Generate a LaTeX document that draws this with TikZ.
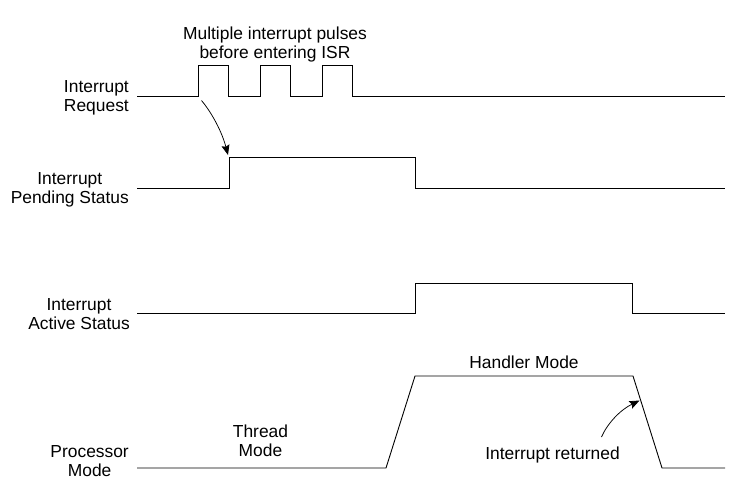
\documentclass[tikz,border=0pt]{standalone}
\usepackage{fontspec}
\setmainfont{Liberation Sans}
\usetikzlibrary{arrows.meta}
\begin{document}
\begin{tikzpicture}[x=1pt,y=-1pt,>={Stealth[length=10pt,width=8pt,inset=1.5pt]},
		lbl/.style={align=center,inner sep=0pt,font=\fontsize{17.4}{19}\selectfont},
		sig/.style={line width=0.9pt,line join=miter}]
			\useasboundingbox (0,0) rectangle (735,485);
			% signal names
			\node[lbl,anchor=east] (req) at (129,98) {Interrupt\\Request};
			\node[lbl,anchor=east] (pend) at (129,190) {Interrupt\\Pending Status};
			\node[lbl,anchor=east] (act) at (130,314) {Interrupt\\Active Status};
			\node[lbl,anchor=east] (mode) at (129,461.5) {Processor\\Mode};
			% waveforms
			\draw[sig] (137,96) foreach \p in {198,260,322} {--(\p,96)--(\p,65.5)--(\p+30,65.5)--(\p+30,96)} --(725,96);
			\draw[sig] (137,188.5)--(229,188.5)--(229,157.5)--(415,157.5)--(415,188.5)--(725,188.5);
			\draw[sig] (137,313.5)--(415,313.5)--(415,283)--(632,283)--(632,313.5)--(725,313.5);
			\draw[sig] (137,468)--(386,468)--(415,376)--(633,376)--(662,468)--(725,468);
			% notes
			\node[lbl] (pulses) at (275,44.5) {Multiple interrupt pulses\\before entering ISR};
			\node[lbl] (thread) at (260.5,440.5) {Thread\\Mode};
			\node[lbl] (handler) at (524,362.5) {Handler Mode};
			\node[lbl] (ret) at (552.5,455) {Interrupt returned};
			\coordinate (pulsept) at (201.5,100.5);
			\coordinate (pendpt) at (228,155);
			\coordinate (retpt) at (601.5,437);
			\coordinate (exitpt) at (639.5,400.5);
			\draw[->,line width=0.75pt] (pulsept) .. controls (212,113) and (222,132) .. (pendpt);
			\draw[->,line width=0.75pt] (retpt) .. controls (607,424) and (620,410) .. (exitpt);
		\end{tikzpicture}
\end{document}
